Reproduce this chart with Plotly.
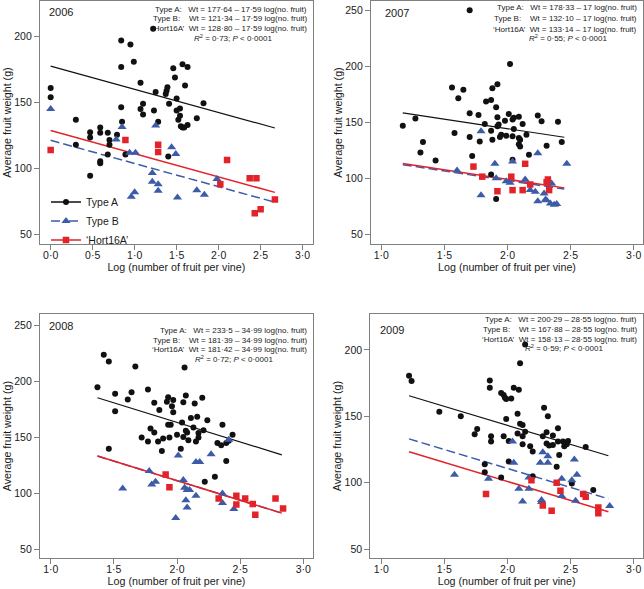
import plotly.graph_objects as go
from plotly.subplots import make_subplots

# ── Data: (log number of fruit per vine, average fruit weight g) ──────

a06 = [(0.00, 161), (0.00, 154), (0.30, 137), (0.30, 118), (0.47, 127.5), (0.47, 123.5),
       (0.47, 94.5), (0.59, 131), (0.59, 127), (0.59, 105.5), (0.59, 104), (0.68, 127),
       (0.70, 121.5), (0.70, 118), (0.68, 110.5), (0.79, 125.5), (0.84, 197), (0.84, 177),
       (0.84, 146.5), (0.85, 135.5), (0.89, 110.5), (0.95, 194), (0.99, 181), (1.07, 165),
       (1.07, 145), (1.10, 149), (1.10, 141), (1.22, 206), (1.23, 144), (1.25, 158),
       (1.28, 135.5), (1.37, 156.5), (1.38, 159), (1.39, 161.5), (1.40, 109), (1.41, 149),
       (1.46, 176), (1.48, 169), (1.50, 153), (1.50, 144), (1.52, 137), (1.54, 145.5),
       (1.54, 140), (1.55, 132), (1.57, 131), (1.59, 131), (1.57, 179), (1.60, 163),
       (1.63, 177), (1.63, 133), (1.74, 138), (1.82, 149.5)]
b06 = [(0.00, 145), (0.78, 122), (0.85, 131.5), (0.94, 112), (1.01, 112), (0.96, 78.5),
       (1.00, 82), (1.25, 132.5), (1.21, 96.5), (1.21, 90), (1.28, 88), (1.28, 83),
       (1.44, 116), (1.49, 111), (1.51, 78), (1.74, 83.5), (1.83, 80), (1.98, 92)]
h06 = [(0.00, 114), (0.89, 121.5), (1.28, 118), (1.28, 112.5), (2.10, 106.5), (2.02, 88),
       (2.37, 92.5), (2.45, 92.5), (2.43, 66), (2.50, 69), (2.67, 76.5)]

a07 = [(1.70, 250), (1.17, 147), (1.27, 153.5), (1.33, 132.5), (1.31, 123), (1.43, 116),
       (1.56, 181), (1.61, 171.5), (1.65, 179), (1.58, 140.5), (1.70, 158), (1.70, 137),
       (1.72, 120), (1.77, 156.5), (1.78, 133), (1.82, 148.5), (1.83, 168.5), (1.87, 170),
       (1.88, 180.5), (1.92, 184), (1.91, 163.5), (1.87, 142.5), (1.88, 134.5), (1.92, 154.5),
       (1.92, 146.5), (1.93, 148), (1.94, 137), (1.95, 139), (1.87, 103.5), (1.91, 81.5),
       (1.98, 151.5), (1.99, 138), (2.01, 157.5), (2.02, 202), (2.04, 152.5), (2.05, 154),
       (2.04, 137.5), (2.05, 144), (2.04, 116.5), (2.09, 136), (2.10, 134.5), (2.09, 130.5),
       (2.10, 128.5), (2.09, 155), (2.12, 148.5), (2.15, 139), (2.17, 121), (2.24, 156),
       (2.27, 151), (2.31, 129), (2.40, 150.5), (2.43, 132.5)]
b07 = [(1.79, 142), (1.60, 107), (1.79, 85), (1.90, 113), (1.91, 100), (1.99, 97.5),
       (2.02, 96), (2.04, 115), (2.14, 99), (2.18, 89.5), (2.22, 88), (2.24, 122.5),
       (2.24, 79.5), (2.29, 86.5), (2.30, 81), (2.31, 80.5), (2.34, 77.5), (2.37, 76.5),
       (2.39, 77), (2.35, 95.5), (2.47, 113)]
h07 = [(1.73, 110.5), (1.80, 101.5), (1.92, 88.5), (2.03, 101.5), (2.04, 89.5), (2.12, 89.5),
       (2.14, 113), (2.18, 94.5), (2.31, 96.5), (2.32, 99), (2.33, 89.5)]

a08 = [(1.37, 195), (1.42, 224), (1.46, 218), (1.51, 189), (1.51, 173.5), (1.46, 140),
       (1.61, 184), (1.64, 190.5), (1.67, 213.5), (1.77, 193), (1.72, 150), (1.77, 146.5),
       (1.79, 158), (1.82, 154.5), (1.82, 181), (1.85, 146.5), (1.86, 174.5), (1.88, 138),
       (1.89, 149), (1.92, 182), (1.93, 186), (1.97, 183.5), (1.93, 161.5), (1.95, 161.5),
       (1.94, 150), (1.96, 178), (1.97, 172.5), (2.00, 152.5), (2.03, 140), (2.04, 163.5),
       (2.05, 150.5), (2.05, 181.5), (2.06, 212.5), (2.07, 187.5), (2.07, 156), (2.08, 154.5),
       (2.09, 147.5), (2.13, 159), (2.11, 167.5), (2.14, 180.5), (2.16, 168.5), (2.17, 154),
       (2.17, 150), (2.15, 146.5), (2.21, 156.5), (2.20, 185.5), (2.24, 165.5), (2.22, 110.5),
       (2.30, 115), (2.32, 145), (2.35, 143), (2.36, 161.5), (2.39, 129), (2.39, 145),
       (2.41, 147), (2.44, 152.5)]
b08 = [(1.57, 104.5), (1.78, 120), (1.80, 108), (1.83, 110.5), (1.99, 78), (2.01, 134),
       (2.05, 112), (2.06, 105), (2.08, 103), (2.10, 103), (2.07, 94), (2.08, 87.5),
       (2.15, 128), (2.18, 128), (2.15, 98), (2.27, 135), (2.36, 100), (2.36, 91.5),
       (2.45, 86), (2.41, 148)]
h08 = [(1.91, 117), (1.94, 105.5), (2.33, 95.5), (2.47, 98), (2.47, 90), (2.54, 95.5),
       (2.60, 90.5), (2.62, 81), (2.78, 95.5), (2.84, 86.5)]

a09 = [(1.22, 180.5), (1.24, 176.5), (1.46, 153.5), (1.63, 150), (1.74, 136.5), (1.76, 140.5),
       (1.82, 114), (1.82, 108), (1.86, 177), (1.86, 171.5), (1.87, 135), (1.87, 131),
       (1.95, 104), (1.95, 167.5), (1.97, 166), (1.98, 164), (1.99, 163), (1.97, 135),
       (1.99, 148), (2.01, 131.5), (2.01, 116), (2.03, 163.5), (2.05, 171.5), (2.09, 170),
       (2.08, 152), (2.10, 144.5), (2.12, 143.5), (2.14, 138.5), (2.08, 137), (2.12, 135),
       (2.12, 129), (2.10, 190), (2.14, 204), (2.18, 127.5), (2.20, 123.5), (2.20, 105),
       (2.29, 156.5), (2.32, 150), (2.31, 138), (2.28, 135), (2.31, 129.5), (2.33, 128),
       (2.36, 128.5), (2.36, 135.5), (2.40, 141), (2.40, 131), (2.41, 121), (2.39, 112),
       (2.44, 131), (2.46, 130), (2.48, 131.5), (2.45, 127.5), (2.47, 129), (2.51, 99.5),
       (2.62, 127), (2.68, 94.5)]
b09 = [(1.58, 106), (1.85, 103), (2.04, 131), (2.05, 115), (2.09, 95.5), (2.12, 86),
       (2.17, 104), (2.17, 95.5), (2.26, 115), (2.27, 87), (2.27, 85.5), (2.28, 123),
       (2.32, 120), (2.32, 115), (2.43, 103), (2.43, 90), (2.51, 102), (2.53, 117.5),
       (2.54, 86.5), (2.55, 106), (2.81, 82.5)]
h09 = [(1.83, 91.5), (2.19, 102), (2.28, 83), (2.35, 79), (2.39, 100), (2.42, 94),
       (2.60, 91.5), (2.62, 89.5), (2.72, 81.5), (2.72, 77)]

# fitted common-slope regressions (from the equations printed on each panel)
years = ["2006", "2007", "2008", "2009"]
slope = [-17.59, -17.0, -34.99, -28.55]
icpt_a = [177.64, 178.33, 233.5, 200.29]
icpt_b = [121.34, 132.10, 181.39, 167.88]
icpt_h = [128.80, 133.14, 181.42, 158.13]
fit_lo = [0.0, 1.17, 1.37, 1.22]
fit_hi = [2.67, 2.45, 2.83, 2.80]

eq_text = [
    ["Type A:\u00a0\u00a0\u00a0Wt = 177·64 – 17·59 log(no. fruit)",
     "Type B:\u00a0\u00a0\u00a0\u00a0Wt = 121·34 – 17·59 log(no. fruit)",
     "‘Hort16A’\u00a0\u00a0Wt = 128·80 – 17·59 log(no. fruit)",
     "<i>R</i><sup>2</sup> = 0·73; <i>P</i> &lt; 0·0001"],
    ["Type A:\u00a0\u00a0\u00a0Wt = 178·33 – 17 log(no. fruit)",
     "Type B:\u00a0\u00a0\u00a0\u00a0Wt = 132·10 – 17 log(no. fruit)",
     "‘Hort16A’\u00a0\u00a0Wt = 133·14 – 17 log(no. fruit)",
     "<i>R</i><sup>2</sup> = 0·55; <i>P</i> &lt; 0·0001"],
    ["Type A:\u00a0\u00a0\u00a0Wt = 233·5 – 34·99 log(no. fruit)",
     "Type B:\u00a0\u00a0\u00a0\u00a0Wt = 181·39 – 34·99 log(no. fruit)",
     "‘Hort16A’\u00a0\u00a0Wt = 181·42 – 34·99 log(no. fruit)",
     "<i>R</i><sup>2</sup> = 0·72; <i>P</i> &lt; 0·0001"],
    ["Type A:\u00a0\u00a0\u00a0Wt = 200·29 – 28·55 log(no. fruit)",
     "Type B:\u00a0\u00a0\u00a0\u00a0Wt = 167·88 – 28·55 log(no. fruit)",
     "‘Hort16A’\u00a0\u00a0Wt = 158·13 – 28·55 log(no. fruit)",
     "<i>R</i><sup>2</sup> = 0·59; <i>P</i> &lt; 0·0001"],
]

x_ticks_06 = [0.0, 0.5, 1.0, 1.5, 2.0, 2.5, 3.0]
x_ticks = [1.0, 1.5, 2.0, 2.5, 3.0]
y_ticks_lo = [50, 100, 150, 200]
y_ticks_hi = [50, 100, 150, 200, 250]

# ── Styling ──────────────────────────────────────────────
FONT = "Liberation Sans, Arial, sans-serif"
INK = "#1a1a1a"
FRAME = "#808080"
BLACK = "#111111"
BLUE = "#3d5ca8"
RED = "#e2232a"

W, H = 644, 589
# panel frames in pixels: (left, right, top, bottom)
frames = [(40, 312.7, 1, 244), (371, 643, 1, 244),
          (40, 313, 314, 558.3), (370.3, 643, 314, 558.3)]
x_ranges = [[-0.127, 3.12], [0.918, 3.074], [0.915, 3.077], [0.913, 3.074]]
y_ranges = [[42.7, 227], [41.4, 258.3], [42, 260.4], [43.2, 227]]
eq_y_px = [[8.3, 17.3, 27, 37], [6.7, 17.3, 28, 37.3],
           [16.7, 26, 35.3, 45], [5, 15, 25, 34]]
r2_x = [0.709, 0.725, 0.71, 0.712]
year_pos = [(7.3, 11), (12, 12.3), (7.3, 12.3), (7.3, 16)]

datasets = [(a06, b06, h06), (a07, b07, h07), (a08, b08, h08), (a09, b09, h09)]
cells = [(1, 1), (1, 2), (2, 1), (2, 2)]

fig = make_subplots(rows=2, cols=2)

for k, (row, col) in enumerate(cells):
    pts_a, pts_b, pts_h = datasets[k]
    xs = [fit_lo[k], fit_hi[k]]

    # regression lines first, points on top
    for icpt, color, dash, width in [(icpt_b[k], BLUE, "9px,4px", 1.5),
                                     (icpt_h[k], RED, "solid", 1.5),
                                     (icpt_a[k], BLACK, "solid", 1.2)]:
        fig.add_trace(go.Scatter(
            x=xs, y=[icpt + slope[k] * v for v in xs], mode="lines",
            line=dict(color=color, width=width, dash=dash),
            showlegend=False, hoverinfo="skip",
        ), row=row, col=col)

    fig.add_trace(go.Scatter(
        x=[p[0] for p in pts_a], y=[p[1] for p in pts_a], mode="markers",
        marker=dict(symbol="circle", size=6, color=BLACK),
        showlegend=False,
    ), row=row, col=col)
    fig.add_trace(go.Scatter(
        x=[p[0] for p in pts_b], y=[p[1] for p in pts_b], mode="markers",
        marker=dict(symbol="triangle-up", size=8, color=BLUE),
        showlegend=False,
    ), row=row, col=col)
    fig.add_trace(go.Scatter(
        x=[p[0] for p in pts_h], y=[p[1] for p in pts_h], mode="markers",
        marker=dict(symbol="square", size=6.5, color=RED),
        showlegend=False,
    ), row=row, col=col)

    l, r, t, b = frames[k]
    xt = x_ticks_06 if k == 0 else x_ticks
    fig.update_xaxes(
        domain=[l / W, r / W], range=x_ranges[k],
        tickvals=xt, ticktext=[f"{v:.1f}".replace(".", "·") for v in xt],
        title=dict(text="Log (number of fruit per vine)",
                   font=dict(size=10.7, color=INK), standoff=3),
        row=row, col=col,
    )
    yt = y_ticks_hi if k in (1, 2) else y_ticks_lo
    fig.update_yaxes(
        domain=[1 - b / H, 1 - t / H], range=y_ranges[k],
        tickvals=yt, ticktext=[str(v) for v in yt],
        title=dict(text="Average fruit weight (g)",
                   font=dict(size=10.7, color=INK), standoff=0),
        row=row, col=col,
    )

    # year label and regression equations
    pw, ph = r - l, b - t
    xref = "x domain" if k == 0 else f"x{k + 1} domain"
    yref = "y domain" if k == 0 else f"y{k + 1} domain"
    yx, yy = year_pos[k]
    fig.add_annotation(text=years[k], x=yx / pw, y=1 - yy / ph, xref=xref, yref=yref,
                       xanchor="left", yanchor="middle", showarrow=False,
                       font=dict(size=11, color=INK))
    for j, line in enumerate(eq_text[k]):
        last = j == 3
        fig.add_annotation(text=line, x=r2_x[k] if last else 0.985,
                           y=1 - eq_y_px[k][j] / ph, xref=xref, yref=yref,
                           xanchor="center" if last else "right", yanchor="middle",
                           showarrow=False, font=dict(size=8, color=INK))

axis_style = dict(showline=True, mirror=True, linecolor=FRAME, linewidth=1.2,
                  ticks="outside", ticklen=5, tickcolor=FRAME, showgrid=False,
                  zeroline=False, automargin=False, tickfont=dict(size=10.5, color=INK))
fig.update_xaxes(ticklabelstandoff=-4, **axis_style)
fig.update_yaxes(**axis_style)

# legend entries (panel 2006)
for name, color, sym, dash, size in [("Type A", BLACK, "circle", "solid", 6),
                                     ("Type B", BLUE, "triangle-up", "dash", 8),
                                     ("‘Hort16A’", RED, "square", "solid", 6.5)]:
    fig.add_trace(go.Scatter(
        x=[None], y=[None], mode="lines+markers", name=name,
        line=dict(color=color, width=1.5, dash=dash),
        marker=dict(symbol=sym, size=size, color=color),
    ), row=1, col=1)

fig.update_layout(
    width=W, height=H,
    margin=dict(l=0, r=0, t=0, b=0, autoexpand=False),
    paper_bgcolor="white", plot_bgcolor="white",
    font=dict(family=FONT, color=INK),
    showlegend=True,
    legend=dict(x=46 / W, y=1 - 221 / H, xanchor="left", yanchor="middle",
                bgcolor="rgba(0,0,0,0)", font=dict(size=10.5, color=INK),
                itemwidth=30, tracegroupgap=0),
)

# page body has a default 8px margin; drop it so the figure sits at the corner
fig.write_html("out.html", config={"displayModeBar": False},
               post_script="document.body.style.margin='0';")
